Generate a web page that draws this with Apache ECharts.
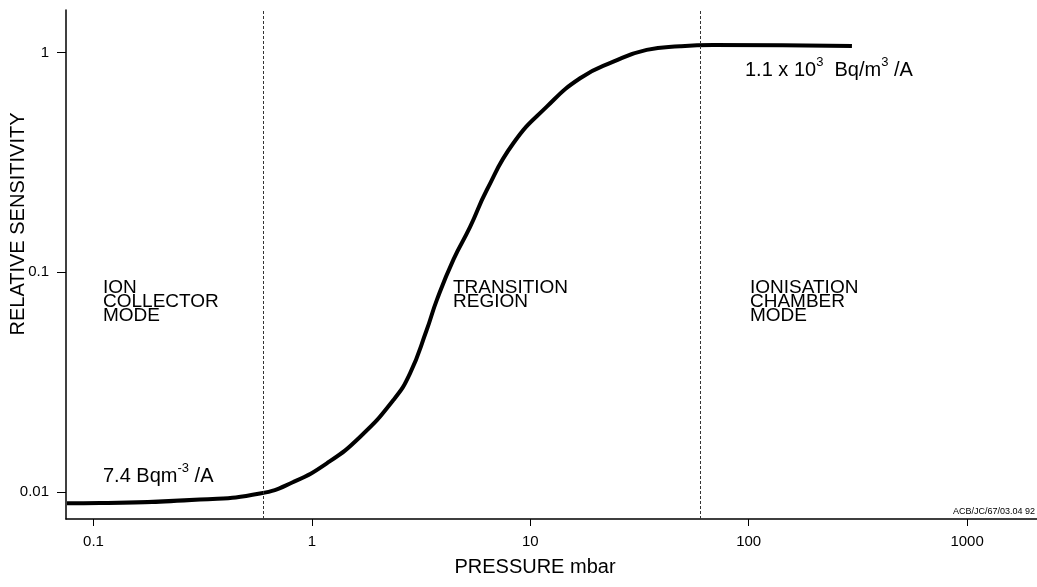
<!DOCTYPE html>
<html>
<head>
<meta charset="utf-8">
<script src="https://cdn.jsdelivr.net/npm/echarts@6/dist/echarts.min.js"></script>
<style>
html,body{margin:0;padding:0;background:#fff;}
#chart{width:1037px;height:587px;}
</style>
</head>
<body>
<div id="chart"></div>
<script>
// Pressure (mbar) and relative sensitivity
const pressure = [0.0756, 0.107, 0.307, 0.578, 0.822, 1.17, 1.66, 2.36, 2.81, 3.35, 3.73, 4.44, 5.30, 6.32, 8.36, 11.9, 16.9, 24.0, 34.1, 48.5, 68.8, 297];
const sensitivity = [0.00888, 0.00890, 0.00923, 0.00983, 0.0111, 0.0135, 0.0178, 0.0262, 0.0346, 0.0545, 0.0747, 0.114, 0.161, 0.237, 0.387, 0.568, 0.765, 0.910, 1.03, 1.07, 1.084, 1.073];
// Region boundaries (mbar)
const boundaries = [0.6, 60];
// Tick values and labels
const xTicks = [0.1, 1, 10, 100, 1000];
const xTickLabels = ['0.1', '1', '10', '100', '1000'];
const yTicks = [0.01, 0.1, 1];
const yTickLabels = ['0.01', '0.1', '1'];
const xTitle = 'PRESSURE mbar';
const yTitle = 'RELATIVE SENSITIVITY';

const FONT = '"Liberation Sans", Arial, Helvetica, sans-serif';
const chart = echarts.init(document.getElementById('chart'), null, {renderer: 'canvas'});

const lineData = pressure.map((p, i) => [p, sensitivity[i]]);

function labelFor(values, labels) {
  return function (v) {
    for (let i = 0; i < values.length; i++) {
      if (Math.abs(Math.log10(v) - Math.log10(values[i])) < 1e-6) return labels[i];
    }
    return '';
  };
}

const richAnn = {
  n: {fontFamily: FONT, fontSize: 20, lineHeight: 24, verticalAlign: 'bottom'},
  s: {fontFamily: FONT, fontSize: 13, lineHeight: 24, verticalAlign: 'top'}
};

const option = {
  animation: false,
  backgroundColor: '#fff',
  grid: {left: 66, right: 0, top: 10, bottom: 68, containLabel: false},
  xAxis: {
    type: 'log',
    min: 0.0748,
    max: 2090,
    axisLine: {show: true, lineStyle: {color: '#000', width: 1.5}},
    axisTick: {show: true, length: 7, inside: false, customValues: xTicks, lineStyle: {color: '#000', width: 1}},
    axisLabel: {show: true, customValues: xTicks, margin: 15, fontFamily: FONT, fontSize: 15, color: '#000',
      formatter: labelFor(xTicks, xTickLabels)},
    splitLine: {show: false},
    minorTick: {show: false}
  },
  yAxis: {
    type: 'log',
    min: 0.00753,
    max: 1.565,
    axisLine: {show: true, lineStyle: {color: '#000', width: 1.5}},
    axisTick: {show: true, length: 9, inside: false, customValues: yTicks, lineStyle: {color: '#000', width: 1}},
    axisLabel: {show: true, customValues: yTicks, margin: 17, fontFamily: FONT, fontSize: 15, color: '#000',
      formatter: labelFor(yTicks, yTickLabels)},
    splitLine: {show: false}
  },
  series: [{
    type: 'line',
    data: lineData,
    smooth: 0.5,
    showSymbol: false,
    symbol: 'none',
    lineStyle: {color: '#000', width: 4},
    markLine: {
      silent: true,
      symbol: ['none', 'none'],
      label: {show: false},
      lineStyle: {color: '#333', width: 1, type: [3, 2]},
      data: boundaries.map(b => ({xAxis: b}))
    },
    z: 3
  }],
  graphic: [
    {type: 'text', x: 18, y: 224, rotation: Math.PI / 2,
      style: {text: yTitle, font: '20px ' + FONT, fill: '#000', align: 'center', verticalAlign: 'middle'}},
    {type: 'text', x: 535, y: 567,
      style: {text: xTitle, font: '20px ' + FONT, fill: '#000', align: 'center', verticalAlign: 'middle'}},
    {type: 'text', x: 103, y: 281,
      style: {text: 'ION\nCOLLECTOR\nMODE', font: '19px ' + FONT, lineHeight: 14, fill: '#000', align: 'left', verticalAlign: 'top'}},
    {type: 'text', x: 453, y: 281,
      style: {text: 'TRANSITION\nREGION', font: '19px ' + FONT, lineHeight: 14, fill: '#000', align: 'left', verticalAlign: 'top'}},
    {type: 'text', x: 750, y: 281,
      style: {text: 'IONISATION\nCHAMBER\nMODE', font: '19px ' + FONT, lineHeight: 14, fill: '#000', align: 'left', verticalAlign: 'top'}},
    {type: 'text', x: 103, y: 474,
      style: {text: '{n|7.4 Bqm}{s|-3}{n| /A}', fill: '#000', align: 'left', verticalAlign: 'middle', rich: richAnn}},
    {type: 'text', x: 745, y: 68,
      style: {text: '{n|1.1 x 10}{s|3}{n|  Bq/m}{s|3}{n| /A}', fill: '#000', align: 'left', verticalAlign: 'middle', rich: richAnn}},
    {type: 'text', x: 1035, y: 516,
      style: {text: 'ACB/JC/67/03.04 92', font: '9px ' + FONT, fill: '#000', align: 'right', verticalAlign: 'bottom'}}
  ]
};
chart.setOption(option);
</script>
</body>
</html>
